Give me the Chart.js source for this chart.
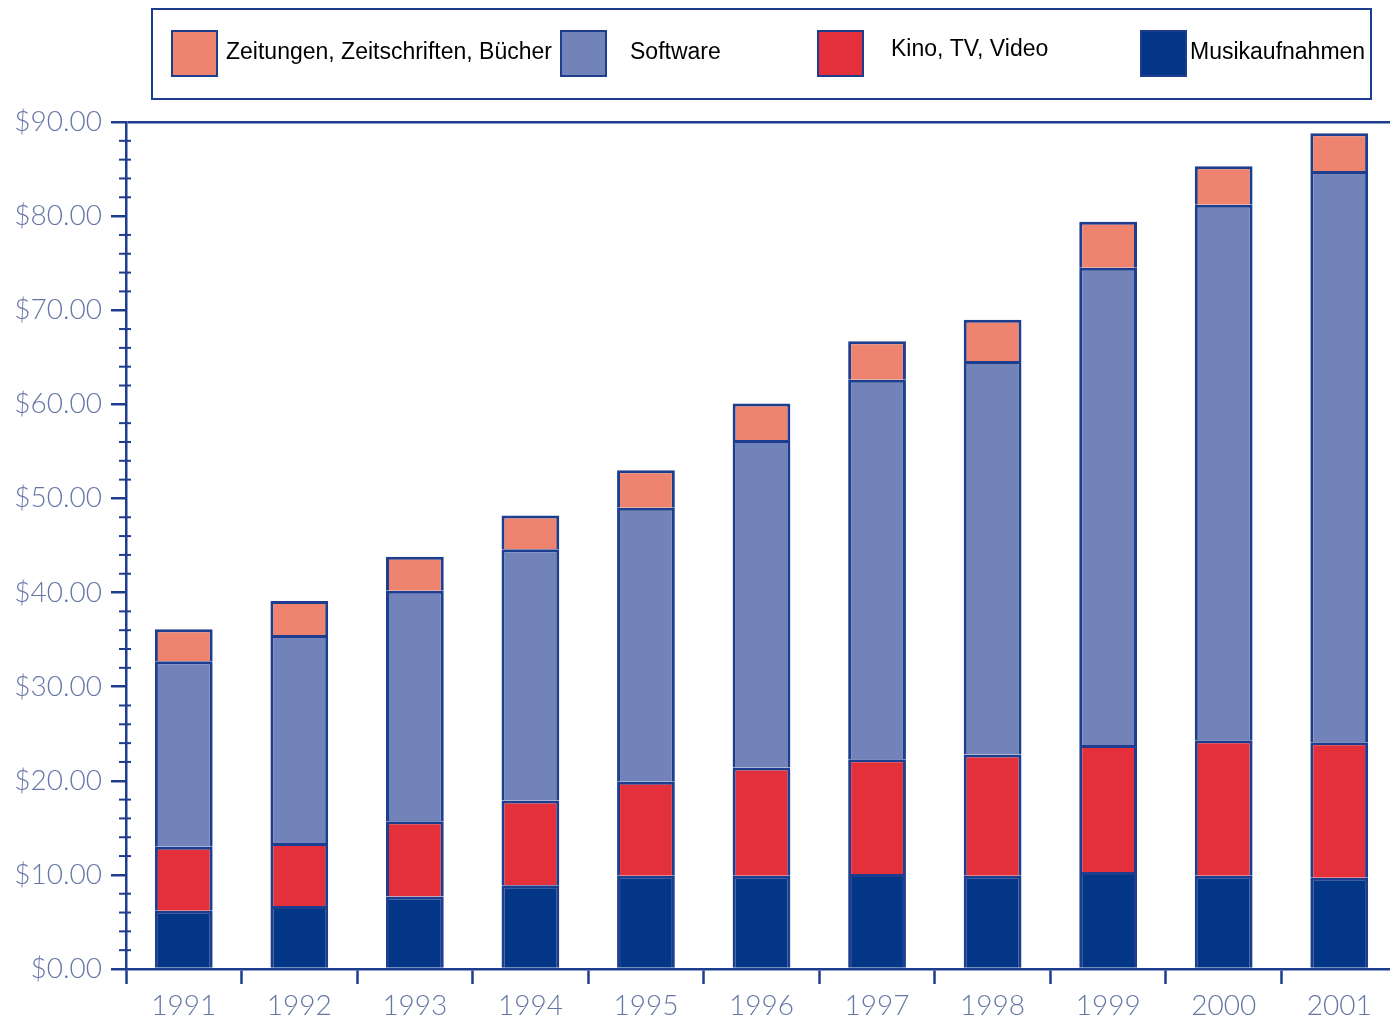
<!DOCTYPE html>
<html>
<head>
<meta charset="utf-8">
<script src="https://cdn.jsdelivr.net/npm/chart.js@4"></script>
<style>
  html, body { margin: 0; padding: 0; background: #fff; overflow: hidden; }
  #wrap { width: 1397px; height: 1020px; }
</style>
</head>
<body>
<div id="wrap"><canvas id="mediaChart" width="1397" height="1020"></canvas></div>
<script>
// data (US$ per capita, stacked segments)
const years = ['1991', '1992', '1993', '1994', '1995', '1996', '1997', '1998', '1999', '2000', '2001'];
const musik = [6.2, 6.7, 7.7, 8.9, 9.9, 9.9, 10.1, 9.9, 10.3, 9.9, 9.7];
const kino = [6.8, 6.7, 8.0, 9.0, 10.0, 11.5, 12.2, 12.9, 13.5, 14.4, 14.4];
const software = [19.7, 22.1, 24.5, 26.7, 29.1, 34.8, 40.3, 41.8, 50.7, 56.9, 60.7];
const zeitungen = [3.4, 3.6, 3.6, 3.6, 4.0, 3.9, 4.1, 4.4, 4.9, 4.1, 4.0];
const yTicks = [0, 10, 20, 30, 40, 50, 60, 70, 80, 90];

const seriesNames = ['Zeitungen, Zeitschriften, Bücher', 'Software', 'Kino, TV, Video', 'Musikaufnahmen'];

const dark = '#1d3d8f';
const axisText = '#6677a6';
const colors = {
  zeitungen: '#ee846f',
  software: '#7283b9',
  kino: '#e4303a',
  musik: '#033686'
};

// legend layout: swatch x, text x, text y
const legendItems = [
  { name: seriesNames[0], color: colors.zeitungen, sx: 172, tx: 226, ty: 53 },
  { name: seriesNames[1], color: colors.software, sx: 561, tx: 630, ty: 53 },
  { name: seriesNames[2], color: colors.kino, sx: 818, tx: 891, ty: 50 },
  { name: seriesNames[3], color: colors.musik, sx: 1141, tx: 1190, ty: 53 }
];

const legendBox = {
  id: 'legendBox',
  afterDraw(chart) {
    const c = chart.ctx;
    c.save();
    c.strokeStyle = dark;
    c.lineWidth = 2;
    c.strokeRect(152, 9, 1219, 90);
    c.font = '23px "Liberation Sans", Arial, sans-serif';
    c.textBaseline = 'middle';
    legendItems.forEach(item => {
      c.fillStyle = item.color;
      c.fillRect(item.sx, 31, 45, 45);
      c.strokeStyle = dark;
      c.lineWidth = 2;
      c.strokeRect(item.sx, 31, 45, 45);
      c.fillStyle = '#000';
      c.fillText(item.name, item.tx, item.ty);
    });
    c.restore();
  }
};

// small ticks every $2 on the value axis
const minorTicks = {
  id: 'minorTicks',
  afterDraw(chart) {
    const y = chart.scales.y;
    const c = chart.ctx;
    const x0 = chart.chartArea.left;
    c.save();
    c.strokeStyle = dark;
    c.lineWidth = 2;
    for (let v = 0; v <= 90; v += 2) {
      if (v % 10 === 0) continue;
      const py = y.getPixelForValue(v);
      c.beginPath();
      c.moveTo(x0 - 7, py);
      c.lineTo(x0 + 5, py);
      c.stroke();
    }
    c.restore();
  }
};

const ctx = document.getElementById('mediaChart').getContext('2d');
const mediaChart = new Chart(ctx, {
  type: 'bar',
  data: {
    labels: years,
    datasets: [
      { label: seriesNames[3], data: musik, backgroundColor: colors.musik },
      { label: seriesNames[2], data: kino, backgroundColor: colors.kino },
      { label: seriesNames[1], data: software, backgroundColor: colors.software },
      { label: seriesNames[0], data: zeitungen, backgroundColor: colors.zeitungen }
    ]
  },
  options: {
    responsive: false,
    animation: false,
    events: [],
    layout: { padding: { top: 122, left: 0, right: 0, bottom: 0 } },
    datasets: {
      bar: {
        barPercentage: 0.5,
        categoryPercentage: 1,
        borderColor: dark,
        borderWidth: 3
      }
    },
    plugins: {
      legend: { display: false },
      tooltip: { enabled: false }
    },
    scales: {
      x: {
        stacked: true,
        offset: true,
        border: { color: dark, width: 2.5 },
        grid: {
          offset: true,
          drawOnChartArea: false,
          tickLength: 15,
          tickColor: dark,
          tickWidth: 2.5
        },
        ticks: {
          color: axisText,
          padding: 5,
          font: { family: 'Lato', weight: 300, size: 28 }
        },
        afterFit(scale) { scale.height = 51; }
      },
      y: {
        stacked: true,
        min: 0,
        max: 90,
        afterBuildTicks(scale) { scale.ticks = yTicks.map(v => ({ value: v })); },
        border: { color: dark, width: 2.5 },
        grid: {
          color: c => (c.tick && c.tick.value === 90 ? dark : 'rgba(0,0,0,0)'),
          lineWidth: 2.5,
          tickLength: 15,
          tickColor: dark,
          tickWidth: 2.5
        },
        ticks: {
          color: axisText,
          padding: 9,
          font: { family: 'Lato', weight: 300, size: 28 },
          callback: v => '$' + Number(v).toFixed(2)
        },
        afterFit(scale) { scale.width = 126; }
      }
    }
  },
  plugins: [legendBox, minorTicks]
});
</script>
</body>
</html>
